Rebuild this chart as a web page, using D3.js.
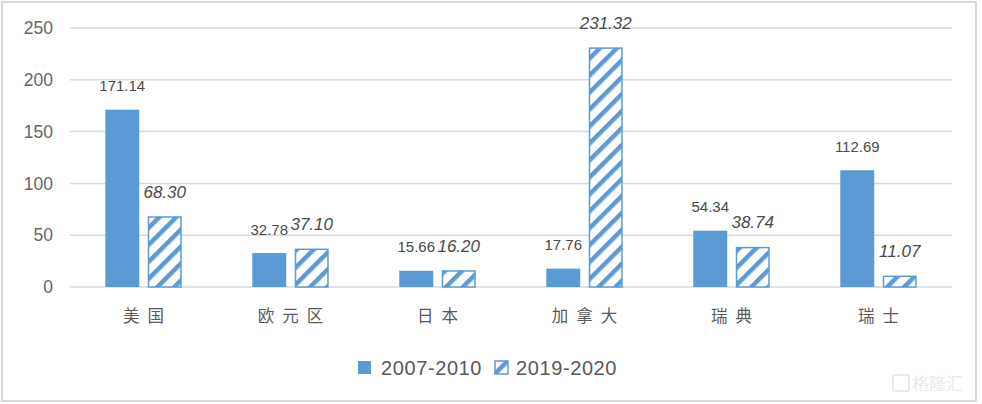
<!DOCTYPE html>
<html>
<head>
<meta charset="utf-8">
<script src="https://cdn.jsdelivr.net/npm/d3@7"></script>
<style>
  html, body { margin: 0; padding: 0; background: #fff; }
  svg { display: block; }
</style>
</head>
<body>
<div id="chart"></div>
<script>
// Regions compared
const categories = ["美国", "欧元区", "日本", "加拿大", "瑞典", "瑞士"];
// Series names
const seriesNames = ["2007-2010", "2019-2020"];
// Values per period
const values2007 = [171.14, 32.78, 15.66, 17.76, 54.34, 112.69];
const values2019 = [68.30, 37.10, 16.20, 231.32, 38.74, 11.07];
// Y axis ticks
const yTicks = [0, 50, 100, 150, 200, 250];

const W = 982, H = 404;
const margin = { left: 70, right: 30, top: 28, bottom: 117 };
const blue = "#5b9bd5";

const svg = d3.select("#chart").append("svg")
  .attr("width", W).attr("height", H);

// Hatch fill for the second period
const defs = svg.append("defs");
const pat = defs.append("pattern")
  .attr("id", "hatch")
  .attr("patternUnits", "userSpaceOnUse")
  .attr("width", 12).attr("height", 12)
  .attr("patternTransform", "rotate(45)");
pat.append("rect").attr("width", 12).attr("height", 12).attr("fill", "#fff");
pat.append("rect").attr("x", 0).attr("y", 0).attr("width", 4.5).attr("height", 12).attr("fill", blue);

// Outer frame
svg.append("rect")
  .attr("x", 2).attr("y", 2).attr("width", 974).attr("height", 399)
  .attr("fill", "#fff").attr("stroke", "#d9d9d9").attr("stroke-width", 2);

const x0 = d3.scaleBand()
  .domain(categories)
  .range([margin.left, W - margin.right])
  .paddingInner(0.48).paddingOuter(0.24);

const x1 = d3.scaleBand()
  .domain(seriesNames)
  .range([0, x0.bandwidth()])
  .paddingInner(0.2);

const y = d3.scaleLinear()
  .domain([0, 250])
  .range([H - margin.bottom, margin.top]);

// Gridlines
svg.append("g")
  .selectAll("line")
  .data(yTicks)
  .join("line")
  .attr("x1", margin.left).attr("x2", W - margin.right)
  .attr("y1", d => y(d)).attr("y2", d => y(d))
  .attr("stroke", "#d9d9d9").attr("stroke-width", 1.5);

// Y axis labels
const yAxis = d3.axisLeft(y).tickValues(yTicks).tickSize(0).tickPadding(0);
const yg = svg.append("g")
  .attr("transform", `translate(${margin.left - 17},0)`)
  .call(yAxis);
yg.select(".domain").remove();
yg.selectAll("text")
  .attr("fill", "#666")
  .style("font-family", "'Liberation Sans', Arial, sans-serif")
  .style("font-size", "17.5px");

const series = [
  { name: seriesNames[0], values: values2007, fill: blue, italic: false },
  { name: seriesNames[1], values: values2019, fill: "url(#hatch)", italic: true }
];

series.forEach(s => {
  const g = svg.append("g");
  g.selectAll("rect")
    .data(categories)
    .join("rect")
    .attr("x", (c) => x0(c) + x1(s.name) + (s.italic ? 0.75 : 0))
    .attr("y", (c, i) => y(s.values[i]) + (s.italic ? 0.75 : 0))
    .attr("width", x1.bandwidth() - (s.italic ? 1.5 : 0))
    .attr("height", (c, i) => y(0) - y(s.values[i]) - (s.italic ? 0.75 : 0))
    .attr("fill", s.fill)
    .attr("stroke", s.italic ? blue : "none")
    .attr("stroke-width", 1.5);

  g.selectAll("text")
    .data(categories)
    .join("text")
    .attr("x", (c) => x0(c) + x1(s.name) + x1.bandwidth() / 2)
    .attr("y", (c, i) => y(s.values[i]) - 18.5)
    .attr("text-anchor", "middle")
    .attr("fill", "#4a4a4a")
    .style("font-family", "'Liberation Sans', Arial, sans-serif")
    .style("font-style", s.italic ? "italic" : "normal")
    .style("font-size", s.italic ? "17px" : "15px")
    .text((c, i) => s.values[i].toFixed(2));
});

// Category labels
svg.append("g")
  .selectAll("text")
  .data(categories)
  .join("text")
  .attr("x", c => x0(c) + x0.bandwidth() / 2 + 4)
  .attr("y", y(0) + 35)
  .attr("text-anchor", "middle")
  .attr("fill", "#595959")
  .style("font-family", "'Noto Sans CJK SC', sans-serif")
  .style("font-size", "16.5px")
  .style("letter-spacing", "8px")
  .text(c => c);

// Legend
const legend = svg.append("g");
const legendItems = [
  { name: seriesNames[0], fill: blue, stroke: "none", sx: 358, tx: 381 },
  { name: seriesNames[1], fill: "url(#hatch)", stroke: blue, sx: 495, tx: 516 }
];
legendItems.forEach(it => {
  legend.append("rect")
    .attr("x", it.sx).attr("y", 361)
    .attr("width", 13).attr("height", 13)
    .attr("fill", it.fill).attr("stroke", it.stroke).attr("stroke-width", 1.5);
  legend.append("text")
    .attr("x", it.tx).attr("y", 375)
    .attr("fill", "#595959")
    .style("font-family", "'Liberation Sans', Arial, sans-serif")
    .style("font-size", "20px")
    .style("letter-spacing", "0.6px")
    .text(it.name);
});

// Faint brand mark in the corner
const mark = svg.append("g").attr("opacity", 0.3);
mark.append("rect")
  .attr("x", 893).attr("y", 375).attr("width", 16).attr("height", 16)
  .attr("rx", 2).attr("fill", "none").attr("stroke", "#aaa").attr("stroke-width", 1.5);
mark.append("text")
  .attr("x", 912).attr("y", 390)
  .attr("fill", "#bbb")
  .style("font-family", "'Noto Sans CJK SC', sans-serif")
  .style("font-size", "17px")
  .text("格隆汇");
</script>
</body>
</html>
